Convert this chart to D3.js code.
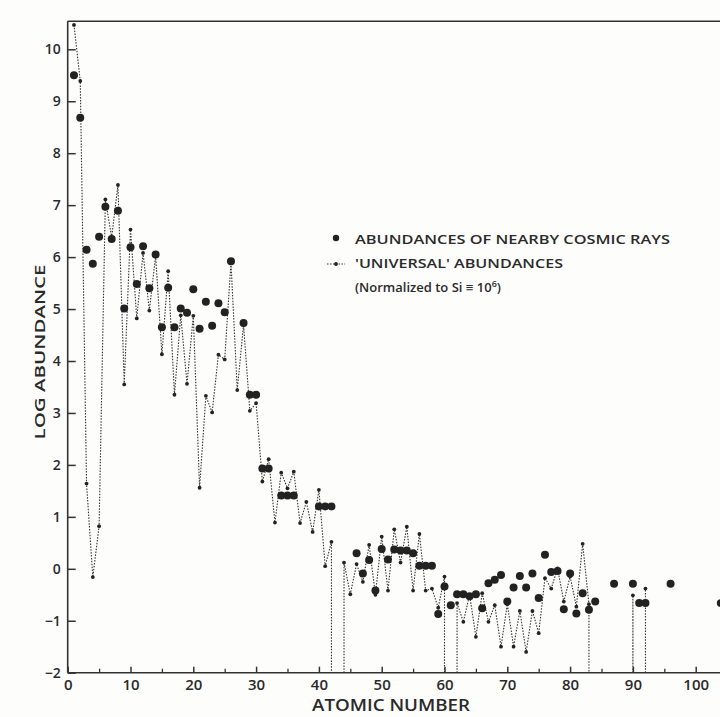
<!DOCTYPE html>
<html>
<head>
<meta charset="utf-8">
<script src="https://cdn.jsdelivr.net/npm/d3@7"></script>
<style>
  body { margin: 0; background: #fdfdfc; }
  svg { display: block; }
  text { font-family: "Open Sans", sans-serif; fill: #2a2a2a; }
</style>
</head>
<body>
<div id="chart"></div>
<script>
// 'universal' abundances, log scale, Si = 10^6, for Z = 1..92 (null = no value, Tc, Pm, 84-89, Pa)
var uniLog = [
  10.47, 9.39, 1.64, -0.16, 0.82, 7.11, 6.38, 7.39, 3.55, 6.53,
  4.82, 6.08, 4.97, 6.02, 4.13, 5.73, 3.35, 4.88, 3.56, 4.87,
  1.56, 3.33, 3.01, 4.12, 4.03, 5.90, 3.44, 4.70, 3.04, 3.19,
  1.68, 2.11, 0.89, 1.85, 1.55, 1.87, 0.88, 1.29, 0.71, 1.52,
  0.05, 0.52, null, 0.12, -0.49, 0.09, -0.25, 0.46, -0.50, 0.62,
  -0.42, 0.76, 0.12, 0.81, -0.42, 0.67, -0.42, -0.38, -0.75, -0.15,
  null, -0.66, -1.02, -0.50, -1.31, -0.47, -1.02, -0.70, -1.50, -0.68,
  -1.50, -0.81, -1.60, -0.81, -1.24, -0.18, -0.38, 0.01, -0.63, -0.15,
  -0.73, 0.48, -0.68, null, null, null, null, null, null, -0.51,
  null, -0.38
];
var uniZ = d3.range(1, uniLog.length + 1);

// abundances of nearby cosmic rays
var crZ = [1, 2, 3, 4, 5, 6, 7, 8, 9, 10,
  11, 12, 13, 14, 15, 16, 17, 18, 19, 20,
  21, 22, 23, 24, 25, 26, 28, 29, 30, 31,
  32, 34, 35, 36, 40, 41, 42, 46, 47, 48,
  49, 50, 51, 52, 53, 54, 55, 56, 57, 58,
  59, 60, 61, 62, 63, 64, 65, 66, 67, 68,
  69, 70, 71, 72, 73, 74, 75, 76, 77, 78,
  79, 80, 81, 82, 83, 84, 87, 90, 91, 92,
  96, 104];
var crLog = [9.50, 8.68, 6.14, 5.87, 6.39, 6.97, 6.35, 6.89, 5.01, 6.19,
  5.48, 6.21, 5.40, 6.05, 4.65, 5.41, 4.65, 5.01, 4.93, 5.38,
  4.62, 5.14, 4.68, 5.11, 4.94, 5.92, 4.73, 3.35, 3.35, 1.93,
  1.93, 1.41, 1.41, 1.41, 1.20, 1.20, 1.20, 0.30, -0.09, 0.17,
  -0.42, 0.38, 0.18, 0.37, 0.35, 0.35, 0.30, 0.06, 0.06, 0.06,
  -0.87, -0.34, -0.70, -0.49, -0.49, -0.53, -0.49, -0.76, -0.28, -0.21,
  -0.12, -0.63, -0.36, -0.14, -0.36, -0.09, -0.56, 0.27, -0.06, -0.04,
  -0.78, -0.09, -0.86, -0.47, -0.79, -0.63, -0.29, -0.29, -0.66, -0.66,
  -0.29, -0.66];

var xMajor = [0, 10, 20, 30, 40, 50, 60, 70, 80, 90, 100];
var xMinor = [5, 15, 25, 35, 45, 55, 65, 75, 85, 95];
var yTicks = [-2, -1, 0, 1, 2, 3, 4, 5, 6, 7, 8, 9, 10];

var W = 720, H = 717;
var ink = "#222";

var svg = d3.select("#chart").append("svg")
  .attr("width", W)
  .attr("height", H);

var x = d3.scaleLinear().domain([0, 100]).range([67.7, 695.7]);
var y = d3.scaleLinear().domain([-2, 10]).range([672.7, 49.3]);
var yTop = y(10.54);

// universal abundances: dotted line, dropping to the axis where an element has no value
var pts = [];
var prev = null;
uniZ.forEach(function (z, i) {
  var v = uniLog[i];
  if (v === null) {
    if (prev !== null) {
      pts.push({z: prev.z, v: -2});
      pts.push(null);
    }
    prev = null;
  } else {
    if (prev === null && pts.length > 0) pts.push({z: z, v: -2});
    prev = {z: z, v: v};
    pts.push(prev);
  }
});

var line = d3.line()
  .defined(function (d) { return d !== null; })
  .x(function (d) { return x(d.z); })
  .y(function (d) { return y(d.v); });

svg.append("path")
  .datum(pts)
  .attr("d", line)
  .attr("fill", "none")
  .attr("stroke", "#333")
  .attr("stroke-width", 1.1)
  .attr("stroke-dasharray", "1.5,1.4");

svg.append("g")
  .selectAll("circle")
  .data(uniZ.filter(function (z, i) { return uniLog[i] !== null; }))
  .enter()
  .append("circle")
    .attr("cx", function (z) { return x(z); })
    .attr("cy", function (z) { return y(uniLog[z - 1]); })
    .attr("r", 1.9)
    .attr("fill", ink);

// cosmic ray dots
svg.append("g")
  .selectAll("circle")
  .data(crZ)
  .enter()
  .append("circle")
    .attr("cx", function (z) { return x(z); })
    .attr("cy", function (z, i) { return y(crLog[i]); })
    .attr("r", 4)
    .attr("fill", ink);

// frame
svg.append("line")
  .attr("x1", x(0)).attr("x2", x(0))
  .attr("y1", y(-2)).attr("y2", yTop)
  .attr("stroke", "#333").attr("stroke-width", 1.6);
svg.append("line")
  .attr("x1", x(0)).attr("x2", W)
  .attr("y1", y(-2)).attr("y2", y(-2))
  .attr("stroke", "#333").attr("stroke-width", 1.6);
svg.append("line")
  .attr("x1", x(0)).attr("x2", W)
  .attr("y1", yTop).attr("y2", yTop)
  .attr("stroke", "#333").attr("stroke-width", 1.6);

// Y axis
var gy = svg.append("g")
  .attr("transform", "translate(" + x(0) + ",0)")
  .call(d3.axisLeft(y).tickValues(yTicks).tickSize(-8).tickPadding(7)
    .tickFormat(function (d) { return d < 0 ? "\u2212" + (-d) : d; }));
gy.select(".domain").remove();
gy.selectAll("line").attr("stroke", "#333").attr("stroke-width", 1.5);
gy.selectAll("text").style("font-size", "14px").style("font-weight", 600).attr("fill", "#2a2a2a");

// X axis
var gx = svg.append("g")
  .attr("transform", "translate(0," + y(-2) + ")")
  .call(d3.axisBottom(x).tickValues(xMajor).tickSize(-6).tickPadding(7));
gx.select(".domain").remove();
gx.selectAll("line").attr("stroke", "#333").attr("stroke-width", 1.5);
gx.selectAll("text").style("font-size", "15px").style("font-weight", 600).attr("fill", "#2a2a2a");

var gx2 = svg.append("g")
  .attr("transform", "translate(0," + y(-2) + ")")
  .call(d3.axisBottom(x).tickValues(xMinor).tickSize(-4).tickFormat(""));
gx2.select(".domain").remove();
gx2.selectAll("line").attr("stroke", "#333").attr("stroke-width", 1.3);

// axis titles
svg.append("text")
  .attr("x", 391).attr("y", 711)
  .attr("text-anchor", "middle")
  .attr("textLength", 158).attr("lengthAdjust", "spacingAndGlyphs")
  .style("font-size", "16px").style("font-weight", 600)
  .text("ATOMIC NUMBER");

svg.append("text")
  .attr("transform", "translate(45,352) rotate(-90)")
  .attr("text-anchor", "middle")
  .attr("textLength", 175).attr("lengthAdjust", "spacingAndGlyphs")
  .style("font-size", "15px").style("font-weight", 600)
  .text("LOG ABUNDANCE");

// legend
var lg = svg.append("g");
lg.append("circle").attr("cx", 336).attr("cy", 238).attr("r", 3.2).attr("fill", ink);
lg.append("line").attr("x1", 327).attr("x2", 345).attr("y1", 264).attr("y2", 264)
  .attr("stroke", "#333").attr("stroke-width", 1.1).attr("stroke-dasharray", "1.5,1.4");
lg.append("circle").attr("cx", 336).attr("cy", 264).attr("r", 1.9).attr("fill", ink);

lg.append("text").attr("x", 355).attr("y", 244)
  .attr("textLength", 315).attr("lengthAdjust", "spacingAndGlyphs")
  .style("font-size", "13px").style("font-weight", 600)
  .text("ABUNDANCES OF NEARBY COSMIC RAYS");
lg.append("text").attr("x", 355).attr("y", 268)
  .attr("textLength", 208).attr("lengthAdjust", "spacingAndGlyphs")
  .style("font-size", "13px").style("font-weight", 600)
  .text("'UNIVERSAL' ABUNDANCES");
var t3 = lg.append("text").attr("x", 355).attr("y", 292)
  .style("font-size", "13px").style("font-weight", 600);
t3.append("tspan").text("(Normalized to Si \u2261 10");
t3.append("tspan").attr("dy", -5).style("font-size", "9px").text("6");
t3.append("tspan").attr("dy", 5).text(")");
</script>
</body>
</html>
